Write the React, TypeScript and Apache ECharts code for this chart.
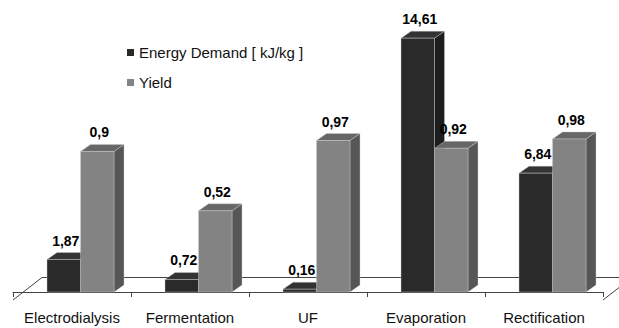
import React, { useEffect, useRef } from "react";
import * as echarts from "echarts";

// Process steps and their measured values
const categories = ["Electrodialysis", "Fermentation", "UF", "Evaporation", "Rectification"];
const energyDemand = [1.87, 0.72, 0.16, 14.61, 6.84];
const yieldValues = [0.9, 0.52, 0.97, 0.92, 0.98];
const seriesNames = ["Energy Demand [ kJ/kg ]", "Yield"];

const FONT = "'Liberation Sans', Arial, Helvetica, sans-serif";

// 3D column geometry (pixels)
const BAR_W = 33.5;
const DEPTH_X = 10;
const DEPTH_Y = 7;

type Shade = { front: string; top: string; side: string };
const darkShade: Shade = { front: "#2a2a2a", top: "#333333", side: "#1d1d1d" };
const greyShade: Shade = { front: "#838383", top: "#676767", side: "#565656" };

const fmt = (v: number) => String(v).replace(".", ",");

function makeRenderer(shade: Shade, offset: number) {
  return (params: any, api: any) => {
    const idx = api.value(0);
    const v = api.value(1);
    const base = api.coord([idx, 0]);
    const top = api.coord([idx, v]);
    const x0 = base[0] + offset;
    const x1 = x0 + BAR_W;
    const yB = base[1];
    const yT = top[1];
    return {
      type: "group",
      children: [
        {
          type: "polygon",
          shape: {
            points: [
              [x1, yT],
              [x1 + DEPTH_X, yT - DEPTH_Y],
              [x1 + DEPTH_X, yB - DEPTH_Y],
              [x1, yB],
            ],
          },
          style: { fill: shade.side, stroke: "#cfcfcf", lineWidth: 0.4 },
        },
        {
          type: "polygon",
          shape: {
            points: [
              [x0, yT],
              [x0 + DEPTH_X, yT - DEPTH_Y],
              [x1 + DEPTH_X, yT - DEPTH_Y],
              [x1, yT],
            ],
          },
          style: { fill: shade.top, stroke: "#cfcfcf", lineWidth: 0.4 },
        },
        {
          type: "rect",
          shape: { x: x0, y: yT, width: BAR_W, height: yB - yT },
          style: { fill: shade.front, stroke: "#cfcfcf", lineWidth: 0.4 },
        },
        {
          type: "text",
          style: {
            text: fmt(v),
            x: x0 + BAR_W / 2 + 2,
            y: yT - DEPTH_Y - 5,
            align: "center",
            verticalAlign: "bottom",
            fontSize: 14,
            fontWeight: "bold",
            fontFamily: FONT,
            fill: "#000",
          },
        },
      ],
    };
  };
}

export default function App() {
  const ref = useRef<HTMLDivElement>(null);

  useEffect(() => {
    if (!ref.current) return;
    const chart = echarts.init(ref.current, null, { renderer: "svg" });

    const option: any = {
      animation: false,
      backgroundColor: "#ffffff",
      textStyle: { fontFamily: FONT },
      grid: { left: 13, right: 16, top: 14, bottom: 36 },
      legend: {
        orient: "vertical",
        left: 122,
        top: 40,
        icon: "rect",
        itemWidth: 7,
        itemHeight: 7,
        itemGap: 15,
        textStyle: { fontSize: 15, fontFamily: FONT, color: "#111", lineHeight: 15 },
        data: seriesNames.map((n, i) => ({
          name: n,
          itemStyle: { color: i === 0 ? darkShade.front : greyShade.front },
        })),
      },
      xAxis: {
        type: "category",
        data: categories,
        offset: 8,
        axisLine: { show: true, lineStyle: { color: "#444", width: 1 } },
        axisTick: { show: true, length: 5, lineStyle: { color: "#444" } },
        axisLabel: { fontSize: 15, color: "#111", fontFamily: FONT, margin: 10, interval: 0 },
        splitLine: { show: false },
      },
      yAxis: [
        { type: "value", min: 0, max: 16, show: false, splitLine: { show: false } },
        { type: "value", min: 0, max: 1.78, show: false, splitLine: { show: false } },
      ],
      graphic: [
        {
          type: "polyline",
          z: 0,
          silent: true,
          shape: { points: [[42, 277.5], [640, 277.5]] },
          style: { stroke: "#444", lineWidth: 1, fill: null },
        },
        {
          type: "polyline",
          z: 0,
          silent: true,
          shape: { points: [[13, 300], [42, 277.5]] },
          style: { stroke: "#444", lineWidth: 1, fill: null },
        },
        {
          type: "polyline",
          z: 0,
          silent: true,
          shape: { points: [[603, 300], [632, 277.5]] },
          style: { stroke: "#444", lineWidth: 1, fill: null },
        },
      ],
      series: [
        {
          name: seriesNames[0],
          type: "custom",
          yAxisIndex: 0,
          clip: false,
          itemStyle: { color: darkShade.front },
          data: energyDemand.map((v, i) => [i, v]),
          encode: { x: 0, y: 1 },
          renderItem: makeRenderer(darkShade, -25),
          z: 2,
        },
        {
          name: seriesNames[1],
          type: "custom",
          yAxisIndex: 1,
          clip: false,
          itemStyle: { color: greyShade.front },
          data: yieldValues.map((v, i) => [i, v]),
          encode: { x: 0, y: 1 },
          renderItem: makeRenderer(greyShade, 8.5),
          z: 3,
        },
      ],
    };

    chart.setOption(option);
    return () => chart.dispose();
  }, []);

  return (
    <div
      ref={ref}
      style={{ position: "fixed", left: 0, top: 0, width: 619, height: 328 }}
    />
  );
}
